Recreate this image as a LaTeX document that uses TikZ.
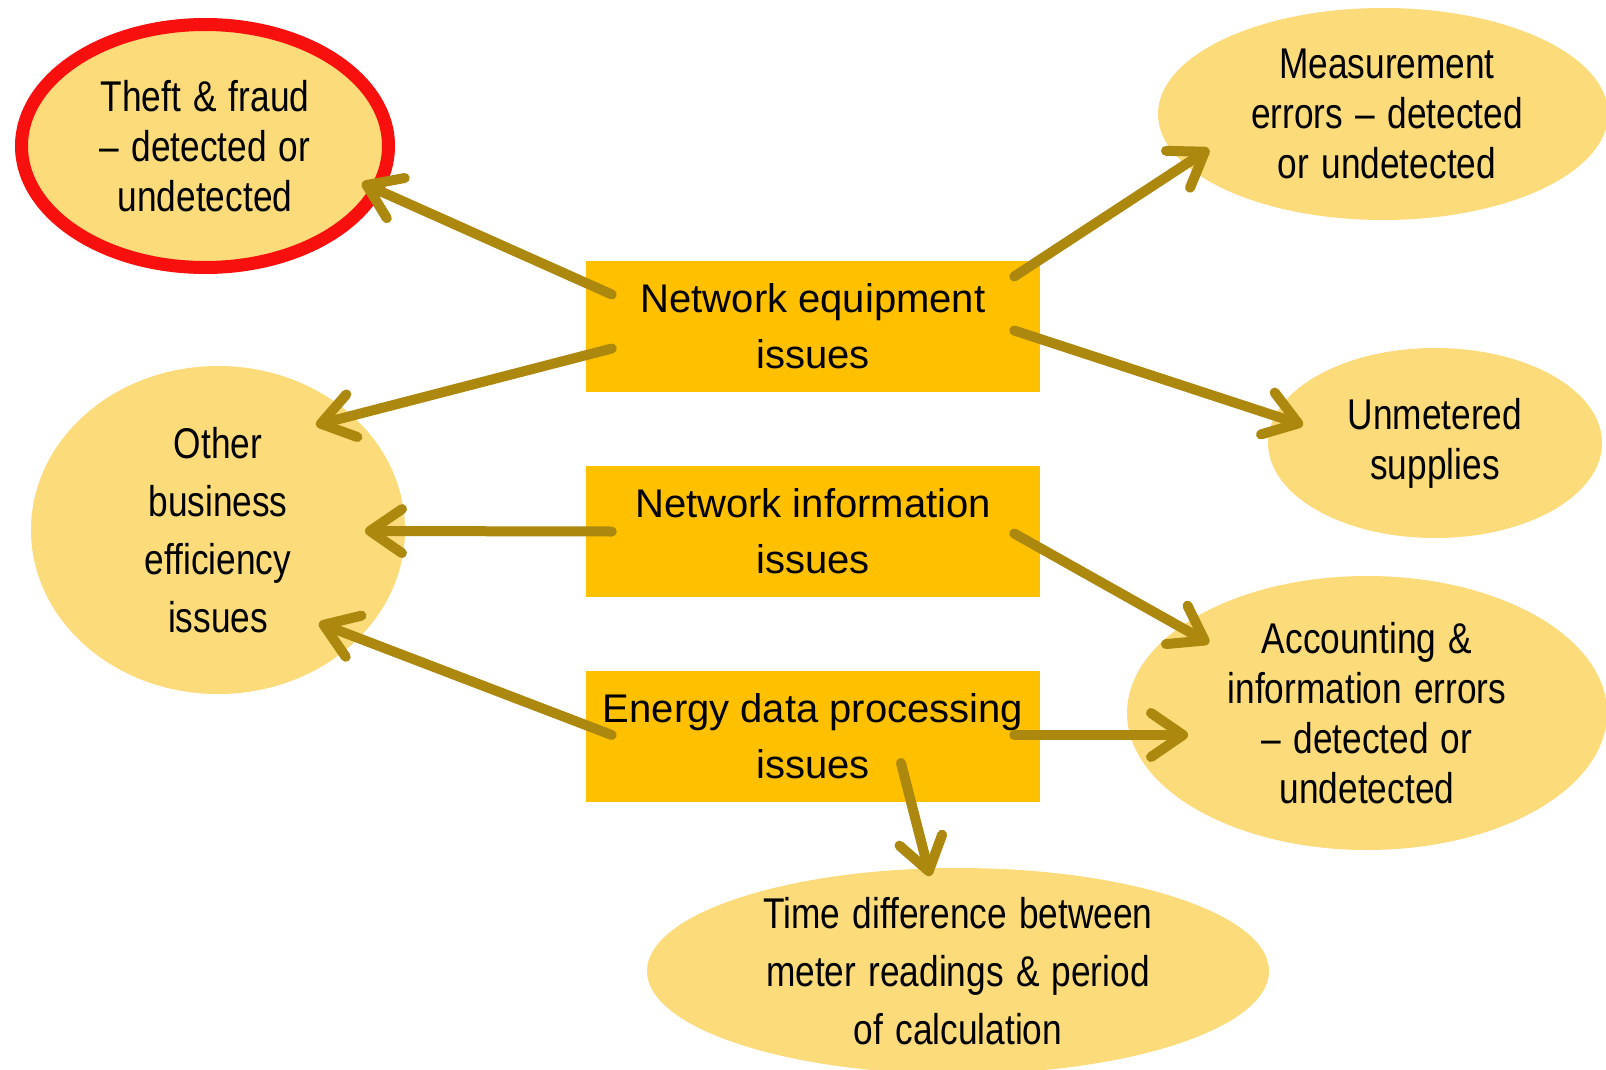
\documentclass[tikz,border=0pt]{standalone}
\usepackage{fontspec}
\setmainfont{Liberation Sans}
\newfontfamily\narrowfont[FakeStretch=0.82,WordSpace=1.25]{Liberation Sans}
\usetikzlibrary{shapes.geometric,arrows.meta}
\definecolor{boxfill}{HTML}{FFC000}
\definecolor{ovalfill}{HTML}{FCDB7A}
\definecolor{arrowcol}{HTML}{AC890E}
\definecolor{ringred}{HTML}{F8100F}
\begin{document}
\begin{tikzpicture}[x=1pt,y=-1pt,
  issue/.style={fill=boxfill, draw=none, minimum width=454pt, minimum height=131pt,
    inner sep=0pt, align=center, font=\fontsize{40pt}{56pt}\selectfont},
  oval/.style={ellipse, fill=ovalfill, draw=none, inner sep=0pt},
  ovaltext/.style={align=center, inner sep=0pt, font=\narrowfont\fontsize{43pt}{50pt}\selectfont},
  widetext/.style={ovaltext, font=\narrowfont\fontsize{43pt}{58pt}\selectfont},
  link/.style={draw=arrowcol, line width=10pt, line cap=round,
    -{Straight Barb[length=32pt,width=44pt,round]}},
]
% canvas
\fill[white] (0,0) rectangle (1606,1070);
\path[use as bounding box] (0,0) rectangle (1606,1070);

% outcome ovals
\node[oval, draw=ringred, line width=13pt, minimum width=367pt, minimum height=243pt] (th) at (205,146) {};
\node[ovaltext] at (th) {Theft \& fraud\\– detected or\\undetected};

\node[oval, minimum width=450pt, minimum height=212pt] (me) at (1383,114) {};
\node[ovaltext] at (1387,114) {Measurement\\errors – detected\\or undetected};

\node[oval, minimum width=334pt, minimum height=190pt] (un) at (1435,443) {};
\node[ovaltext] at (un) {Unmetered\\supplies};

\node[oval, minimum width=374pt, minimum height=328pt] (ob) at (218,530) {};
\node[widetext] at (ob) {Other\\business\\efficiency\\issues};

\node[oval, minimum width=480pt, minimum height=274pt] (ac) at (1367,713) {};
\node[ovaltext] at (ac) {Accounting \&\\information errors\\– detected or\\undetected};

\node[oval, minimum width=622pt, minimum height=206pt] (td) at (958,971) {};
\node[widetext] at (td) {Time difference between\\meter readings \& period\\of calculation};

% cause boxes
\node[issue] (ne) at (813,326.5) {Network equipment\\issues};
\node[issue] (ni) at (813,531.5) {Network information\\issues};
\node[issue] (ed) at (813,736) {Energy data processing\\issues};

% connectors
\draw[link] ([shift={(26,-32)}]ne.west) -- ([shift={(157,37)}]th.center);
\draw[link] ([shift={(26,22)}]ne.west) -- ([shift={(98,-105)}]ob.center);
\draw[link] ([shift={(-26,-50)}]ne.east) -- ([shift={(-174,35)}]me.center);
\draw[link] ([shift={(-26,4)}]ne.east) -- ([shift={(-132,-18)}]un.center);
\draw[link] ([shift={(26,0)}]ni.west) -- ([shift={(147,1)}]ob.center);
\draw[link] ([shift={(-26,2)}]ni.east) -- ([shift={(-158,-70)}]ac.center);
\draw[link] ([shift={(26,-1)}]ed.west) -- ([shift={(101,93)}]ob.center);
\draw[link] ([shift={(-26,-1)}]ed.east) -- ([shift={(-179,22)}]ac.center);
\draw[link] ([shift={(88,27)}]ed.center) -- ([shift={(-28,-95)}]td.center);
\end{tikzpicture}
\end{document}
